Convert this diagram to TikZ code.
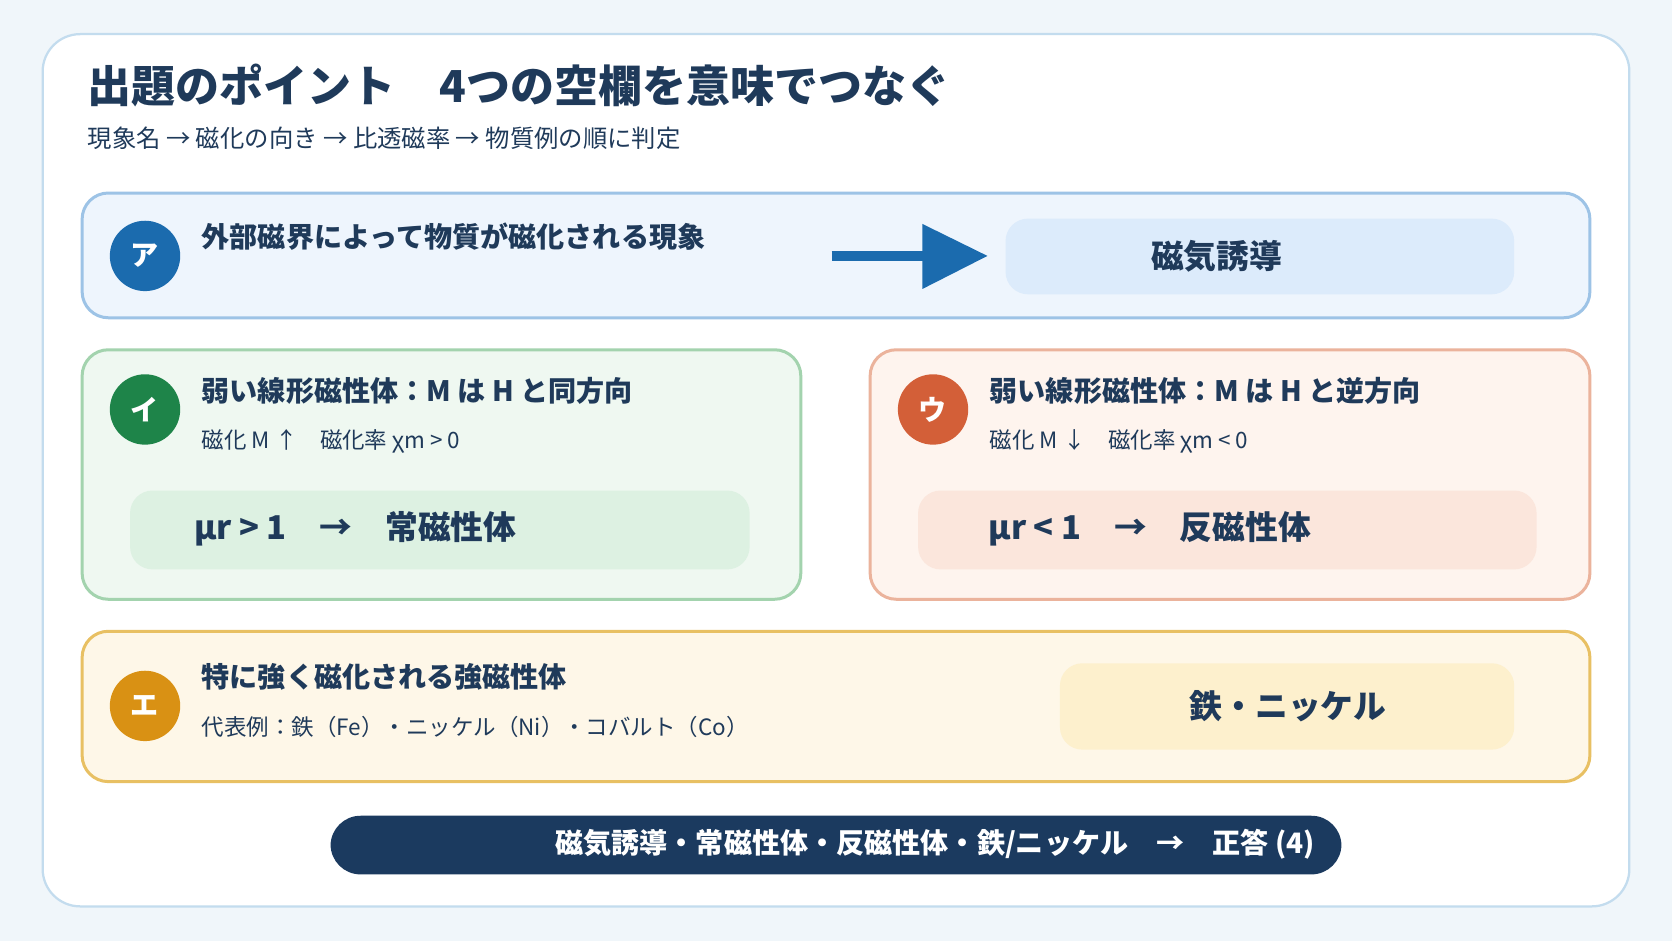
\documentclass[tikz,border=0pt]{standalone}
\usepackage{fontspec}
\setmainfont{Noto Sans CJK JP}
\usetikzlibrary{positioning}
\definecolor{ink}{HTML}{1F3A5A}
\definecolor{bgc}{HTML}{F0F6FA}
\definecolor{frame}{HTML}{C3DCEE}
\definecolor{blueA}{RGB}{27,107,174}
\definecolor{blueLine}{RGB}{157,195,230}
\definecolor{blueFill}{RGB}{238,245,253}
\definecolor{blueChip}{RGB}{220,235,251}
\definecolor{greenA}{RGB}{30,132,73}
\definecolor{greenLine}{RGB}{163,211,174}
\definecolor{greenFill}{RGB}{239,248,241}
\definecolor{greenChip}{RGB}{221,241,226}
\definecolor{redA}{RGB}{211,95,56}
\definecolor{redLine}{RGB}{235,179,156}
\definecolor{redFill}{RGB}{254,244,238}
\definecolor{redChip}{RGB}{251,230,220}
\definecolor{yelA}{RGB}{217,145,20}
\definecolor{yelLine}{RGB}{232,192,99}
\definecolor{yelFill}{RGB}{254,247,232}
\definecolor{yelChip}{RGB}{253,240,205}
\definecolor{navy}{RGB}{27,58,95}
\begin{document}
\begin{tikzpicture}[x=0.02cm,y=-0.02cm,
  panel/.style={draw=#1,line width=1.6pt,rounded corners=14},
  chip/.style={rounded corners=12},
  badge/.style={circle,fill=#1,minimum size=1.32cm,inner sep=0pt,text=white,font=\bfseries\fontsize{15}{15}\selectfont},
  head/.style={anchor=west,text=ink,font=\bfseries\fontsize{15}{18}\selectfont},
  sub/.style={anchor=west,text=ink,font=\fontsize{12}{14}\selectfont},
  big/.style={text=ink,font=\bfseries\fontsize{17.5}{20}\selectfont}]
  % background
  \fill[bgc] (0,0) rectangle (1568,882);
  \draw[fill=white,draw=frame,line width=1.2pt,rounded corners=20] (40,32) rectangle (1528,850);
  \node[anchor=west,text=ink,font=\bfseries\fontsize{23.5}{26}\selectfont] (title) at (76,80) {出題のポイント　4つの空欄を意味でつなぐ};
  \node[sub,font=\fontsize{13}{15}\selectfont] (lead) at (76,130) {現象名 → 磁化の向き → 比透磁率 → 物質例の順に判定};
  % ア
  \draw[panel=blueLine,fill=blueFill] (77,181) rectangle (1491,298);
  \node[badge=blueA] (a) at (136,240) {ア};
  \node[head] (atext) at (183,222) {外部磁界によって物質が磁化される現象};
  \fill[chip,fill=blueChip] (943,205) rectangle (1420,276);
  \node[big] (ares) at (1141,240) {磁気誘導};
  \coordinate (aarr0) at (780,240);
  \coordinate (aarr1) at (868,240);
  \draw[line width=5pt,draw=blueA] (aarr0) -- (aarr1);
  \fill[blueA] (865,210) -- (926,240) -- (865,271) -- cycle;
  % イ
  \draw[panel=greenLine,fill=greenFill] (77,328) rectangle (751,562);
  \node[badge=greenA] (i) at (136,384) {イ};
  \node[head] (ihead) at (183,367) {弱い線形磁性体：M は H と同方向};
  \node[sub] (isub) at (183,414) {磁化 M ↑　磁化率 χm > 0};
  \fill[chip,fill=greenChip] (122,460) rectangle (703,534);
  \node[big,anchor=west] (ires) at (176,496) {μr > 1　→　常磁性体};
  % ウ
  \draw[panel=redLine,fill=redFill] (816,328) rectangle (1491,562);
  \node[badge=redA] (u) at (875,384) {ウ};
  \node[head] (uhead) at (922,367) {弱い線形磁性体：M は H と逆方向};
  \node[sub] (usub) at (922,414) {磁化 M ↓　磁化率 χm < 0};
  \fill[chip,fill=redChip] (861,460) rectangle (1441,534);
  \node[big,anchor=west] (ures) at (921,496) {μr < 1　→　反磁性体};
  % エ
  \draw[panel=yelLine,fill=yelFill] (77,592) rectangle (1491,733);
  \node[badge=yelA] (e) at (136,662) {エ};
  \node[head] (ehead) at (183,635) {特に強く磁化される強磁性体};
  \node[sub] (esub) at (183,682) {代表例：鉄（Fe）・ニッケル（Ni）・コバルト（Co）};
  \fill[chip,fill=yelChip] (994,622) rectangle (1420,703);
  \node[big] (eres) at (1208,662) {鉄・ニッケル};
  % answer
  \fill[rounded corners=16,fill=navy] (310,765) rectangle (1258,820);
  \node[text=white,font=\bfseries\fontsize{15}{18}\selectfont] (ans) at (877,792) {磁気誘導・常磁性体・反磁性体・鉄/ニッケル　→　正答 (4)};
\end{tikzpicture}
\end{document}
